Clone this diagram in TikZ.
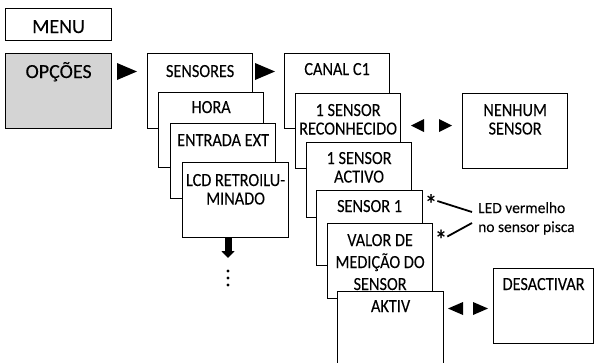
\documentclass[tikz,border=0pt]{standalone}
\usepackage{fontspec}
\setmainfont{Carlito}[FakeStretch=0.88,FakeBold=0.08]
\newfontfamily\bigfont{Carlito}[FakeBold=0.08]
\newfontfamily\notefont{Carlito}[FakeBold=0.06]
\definecolor{mygray}{RGB}{212,212,212}
\usetikzlibrary{arrows.meta,positioning}
\tikzstyle{menubox}=[draw,line width=1.2pt,fill=white,anchor=north west,minimum width=105pt,minimum height=75pt,inner sep=0pt]

\begin{document}
\begin{tikzpicture}[
  x=1pt,y=-1pt,
  txt/.style={
    anchor=base,
    yshift=-#1,
    align=center,
    inner sep=0pt,
    font=\fontsize{18.5}{18.5}\selectfont
    },
  txt/.default=23pt,
  big/.style={font=\bigfont\fontsize{20}{20}\selectfont},
  asterisk/.style={inner sep=0pt,text height=4pt,text depth=4pt,font=\fontsize{28}{28}\selectfont},
  pointer/.style={line width=1.8pt}
]
\useasboundingbox (0,0) rectangle (594,362);
\clip (0,0) rectangle (594,362);

% left column
\node [menubox,minimum width=106pt,minimum height=32pt,label={[txt=25pt,big]north:MENU}] (menu) at (5,8) {};
\node [menubox,minimum width=106pt,fill=mygray,label={[txt=25pt,big]north:OPÇÕES}] (opc) at (5,53) {};
\fill (117,63) -- (137,71.5) -- (117,80) -- cycle;

% sensores stack (base = last line)
\node [menubox,label={[txt=24pt]north:SENSORES}] (sens) at (147,53) {};
\node [menubox,label={[txt=21pt]north:HORA}] (hora) at (158,92) {};
\node [menubox,label={[txt]north:ENTRADA EXT}] (ext) at (170,123) {};
\node [menubox,minimum width=106pt,label={[txt=42.5pt]north:LCD RETROILU-\\MINADO}] (lcd) at (182,162) {};
\fill (255,63) -- (275,71.5) -- (255,80) -- cycle;

\coordinate (down) at (228,258);
\draw [line width=7pt,-{Triangle[length=7pt,width=13pt]}] (lcd.south -| down) -- (down);
\foreach \y in {271,278,285}
  \fill (228,\y) circle (1.7pt);

% canal stack
\node [menubox,label={[txt=22pt]north:CANAL C1}] (canal) at (284,53) {};
\node [menubox,label={[txt=41.5pt]north:1 SENSOR\\RECONHECIDO}] (recon) at (295,93) {};
\node [menubox,label={[txt=40.5pt]north:1 SENSOR\\ACTIVO}] (activo) at (306,142) {};
\node [menubox,minimum width=106pt,label={[txt=22pt]north:SENSOR 1}] (s1) at (316,190) {};
\node [menubox,label={[txt=67pt,font=\fontsize{18.5}{22}\selectfont]north:VALOR DE\\MEDIÇÃO DO\\SENSOR}] (valor) at (327,223) {};
\node [menubox,minimum width=106pt,label={[txt=21pt]north:AKTIV}] (aktiv) at (337,291) {};

% alternatives
\node [menubox,label={[txt=41.5pt]north:NENHUM\\SENSOR}] (nenhum) at (462,93) {};
\fill (424,119) -- (411,125.5) -- (424,132) -- cycle;
\fill (439,119) -- (452,125.5) -- (439,132) -- cycle;

\node [menubox,minimum width=100pt,label={[txt=22pt]north:DESACTIVAR}] (desact) at (493,268) {};
\fill (463,302) -- (448,308.5) -- (463,315) -- cycle;
\fill (473,302) -- (488,308.5) -- (473,315) -- cycle;

% note on the led
\node [anchor=base west,align=left,inner sep=0pt,font=\notefont\fontsize{15.5}{19}\selectfont] (note) at (478,232) {LED vermelho\\no sensor pisca};
\node [asterisk] (st1) at (431,201) {\raisebox{-13pt}{*}};
\node [asterisk] (st2) at (441,236.5) {\raisebox{-13pt}{*}};
\draw [pointer] (st1.east) -- ([xshift=-6pt,yshift=20pt]note.base west);
\draw [pointer] (st2.east) -- ([xshift=-6pt,yshift=9pt]note.base west);

\end{tikzpicture}
\end{document}
